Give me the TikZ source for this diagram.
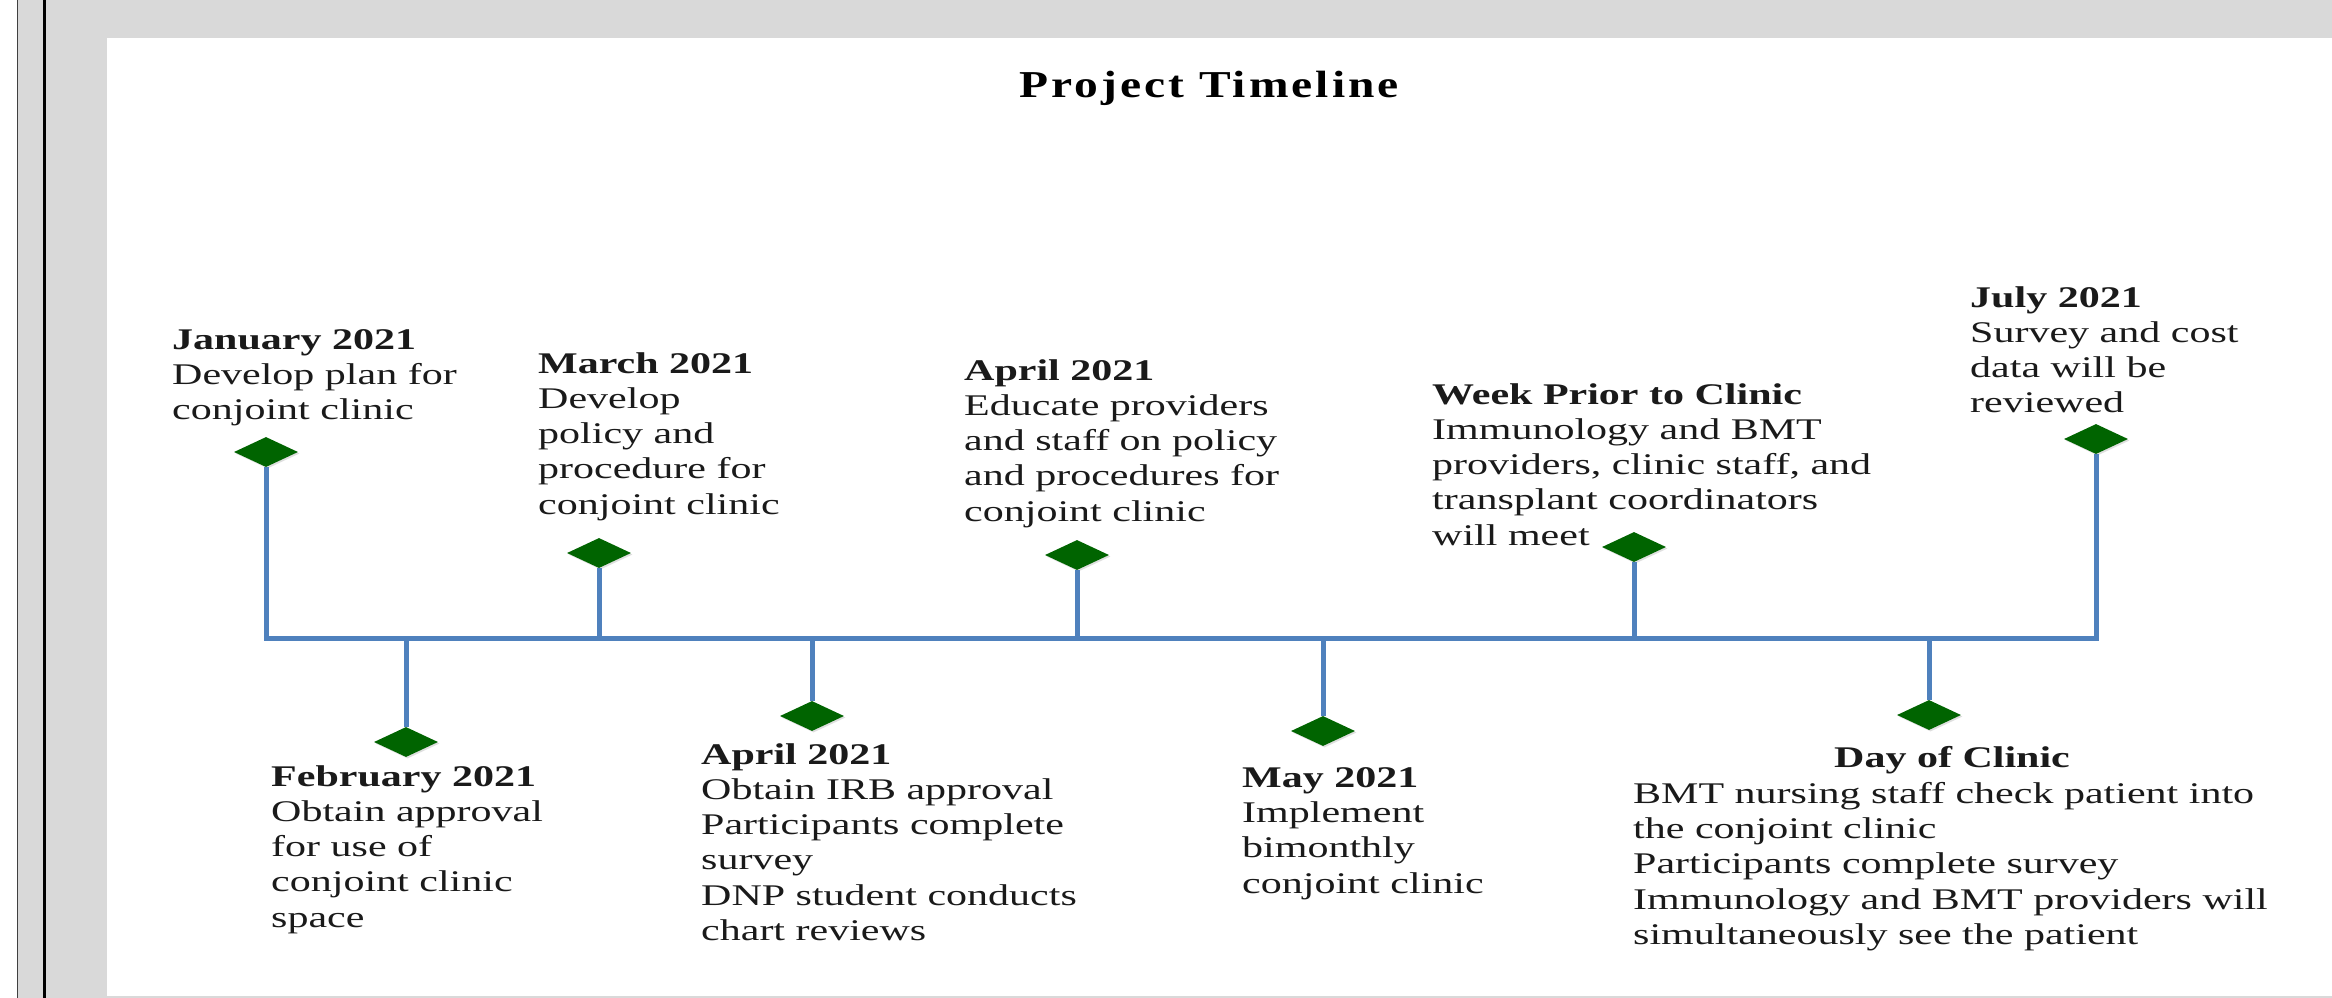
\documentclass[tikz,border=0pt]{standalone}
\usepackage{fontspec}
\setmainfont{Liberation Serif}[FakeStretch=1.4]
\newfontfamily\titlefont{Liberation Serif}[FakeStretch=1.25,LetterSpace=8]
\usetikzlibrary{shapes.geometric,shadows}
\definecolor{framegray}{HTML}{D9D9D9}
\definecolor{edgegray}{HTML}{404040}
\definecolor{lineblue}{HTML}{4F81BD}
\definecolor{markgreen}{HTML}{006400}
\definecolor{inkblack}{HTML}{1A1A1A}

\begin{document}
\begin{tikzpicture}[x=1pt,y=-1pt,
  milestone/.style={diamond, fill=markgreen, draw=none, minimum width=64pt,
    minimum height=30pt, inner sep=0pt,
    drop shadow={opacity=0.25, shadow xshift=1.5pt, shadow yshift=-1.5pt}},
  event/.style={anchor=north west, inner sep=0pt, align=left, text=inkblack,
    font=\fontsize{30}{35.3}\selectfont},
  axisline/.style={draw=lineblue, line width=5pt},
]
\useasboundingbox (0,0) rectangle (2332,998);

% page frame
\fill[white] (0,0) rectangle (2332,998);
\fill[framegray] (17,0) rectangle (2332,998);
\fill[white] (107,38) rectangle (2332,996);
\draw[edgegray, line width=1.5pt] (17.5,0) -- (17.5,998);
\draw[black, line width=2.5pt] (44.5,0) -- (44.5,998);

% title
\node[font=\titlefont\bfseries\fontsize{38}{42}\selectfont, anchor=base,
  inner sep=0pt, text=black] (title) at (1209,97) {Project Timeline};

% milestones
\node[milestone] (d1) at (266,452) {};
\node[milestone] (d2) at (406,742) {};
\node[milestone] (d3) at (599,553) {};
\node[milestone] (d4) at (812,716) {};
\node[milestone] (d5) at (1077,555) {};
\node[milestone] (d6) at (1323,731) {};
\node[milestone] (d7) at (1634,547) {};
\node[milestone] (d8) at (1929,715) {};
\node[milestone] (d9) at (2096,439) {};

% points on the time axis
\coordinate (b1) at (266,638);
\coordinate (b2) at (406,638);
\coordinate (b3) at (599,638);
\coordinate (b4) at (812,638);
\coordinate (b5) at (1077,638);
\coordinate (b6) at (1323,638);
\coordinate (b7) at (1634,638);
\coordinate (b8) at (1929,638);
\coordinate (b9) at (2096,638);

% axis and stems
\draw[axisline, line join=miter] (d1) -- (b1) -- (b9) -- (d9);
\draw[axisline] (b2) -- (d2);
\draw[axisline] (b3) -- (d3);
\draw[axisline] (b4) -- (d4);
\draw[axisline] (b5) -- (d5);
\draw[axisline] (b6) -- (d6);
\draw[axisline] (b7) -- (d7);
\draw[axisline] (b8) -- (d8);

% event labels
\node[event] (t1) at (172,329) {\textbf{January 2021}\\Develop plan for\\conjoint clinic};
\node[event] (t2) at (271,765) {\textbf{February 2021}\\Obtain approval\\for use of\\conjoint clinic\\space};
\node[event] (t3) at (538,352) {\textbf{March 2021}\\Develop\\policy and\\procedure for\\conjoint clinic};
\node[event] (t4) at (701,743) {\textbf{April 2021}\\Obtain IRB approval\\Participants complete\\survey\\DNP student conducts\\chart reviews};
\node[event] (t5) at (964,359) {\textbf{April 2021}\\Educate providers\\and staff on policy\\and procedures for\\conjoint clinic};
\node[event] (t6) at (1242,767) {\textbf{May 2021}\\Implement\\bimonthly\\conjoint clinic};
\node[event] (t7) at (1432,383) {\textbf{Week Prior to Clinic}\\Immunology and BMT\\providers, clinic staff, and\\transplant coordinators\\will meet};
\node[event, anchor=north] (h8) at (1952,746) {\textbf{Day of Clinic}};
\node[event] (t8) at (1633,782) {BMT nursing staff check patient into\\the conjoint clinic\\Participants complete survey\\Immunology and BMT providers will\\simultaneously see the patient};
\node[event] (t9) at (1970,286) {\textbf{July 2021}\\Survey and cost\\data will be\\reviewed};
\end{tikzpicture}
\end{document}
